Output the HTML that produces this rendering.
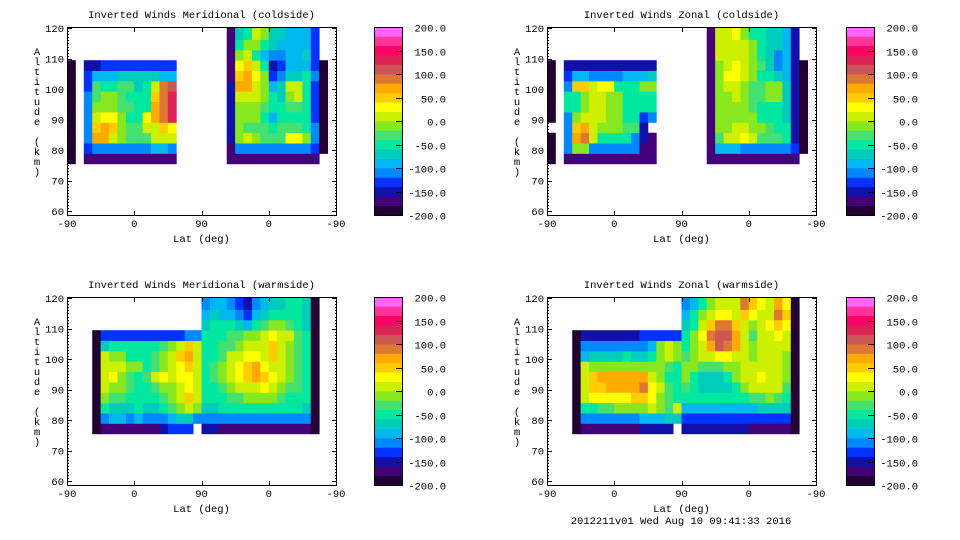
<!DOCTYPE html>
<html><head><meta charset="utf-8">
<style>
html,body{margin:0;padding:0;background:#fff;}
svg{display:block;font-family:"Liberation Mono",monospace;font-size:10.5px;}
</style></head>
<body>
<svg id="root" width="960" height="540" viewBox="0 0 960 540" xmlns="http://www.w3.org/2000/svg"></svg>
<script>
// ---- data ----
// level codes: 'a'..'t' -> level 0..19, value = -190 + 20*level ; '.' = no data
const levelColors = ["#220033","#440077","#1111aa","#0033ff","#0088ff","#00b8ee","#00ccbb","#00e8a0","#44e070","#88e820","#ccf000","#ffff00","#ffcc00","#ffaa00","#dd7733","#cc5555","#dd2255","#ff0066","#ff3399","#ff66ff"];
const colorbarTicks = [200,150,100,50,0,-50,-100,-150,-200];
const xTickLabels = ["-90","0","90","0","-90"];
const yTicks = [60,70,80,90,100,110,120];
const altBins = [75.5,78.9,82.3,85.7,89.1,92.5,95.9,99.3,102.7,106.1,109.5,112.9,116.3];
const panelTitles = ["Inverted Winds Meridional (coldside)","Inverted Winds Zonal (coldside)","Inverted Winds Meridional (warmside)","Inverted Winds Zonal (warmside)"];
// rows listed from bottom (altBins[0]) to top; 32 columns each spanning 1/8 of the axis
const gridMerCold = [
"a."+"bbbbbbbbbbb"+"......"+"bbbbbbbbbbb"+"..",
"a."+"deeeeeeeffe"+"......"+"beeeeeeeeed"+"a.",
"a."+"ennkjiiikkk"+"......"+"cjkjiiillje"+"a.",
"a."+"emnmjiikkml"+"......"+"cjiiihiiihe"+"a.",
"a."+"eklljhhlnoq"+"......"+"cjjjhfhhhhd"+"a.",
"a."+"ejjjiihhnoq"+"......"+"cjjjihhiihd"+"a.",
"a."+"eijjihhhmoq"+"......"+"ckkkjhgjkhd"+"a.",
"a."+"dihhiighkop"+"......"+"cnnkjfgkkhd"+"a.",
"a."+"dfffgggggff"+"......"+"bmnljdegghe"+"a.",
"a."+"ccddddddddd"+"......"+"blmkhcdfffd"+"a.",
".."+"..........."+"......"+"bjkhfeeffgd"+"..",
".."+"..........."+"......"+"bhjjhgffffd"+"..",
".."+"..........."+"......"+"bghkjggfffd"+".."];
const gridZonCold = [
"a."+"bbbbbbbbbbb"+"......"+"bbbbbbbbbbb"+"..",
"a."+"ejjeeeeeebb"+"......"+"bfffeeeeeed"+"a.",
"a."+"enokhhhhecb"+"......"+"bikklkiiihc"+"a.",
".."+"emnkjjjiic."+"......"+"bjjkkjjihhc"+"a.",
"a."+"ejkkkjjhhde"+"......"+"bjjjjjhhhgc"+"a.",
"a."+"hhjkkjjhhhh"+"......"+"bjjjjihhhgc"+"a.",
"a."+"hhjkkjjhhhh"+"......"+"bjjkjiijjgc"+"a.",
"a."+"emmkllhhhjj"+"......"+"bjkkjiijjgc"+"a.",
"a."+"dffeeeefffg"+"......"+"bjllkjhhgfc"+"a.",
"a."+"ccccccccccc"+"......"+"bjklkjigefc"+"a.",
".."+"..........."+"......"+"bkkkkjhgefc"+"..",
".."+"..........."+"......"+"bkkkkjhggfc"+"..",
".."+"..........."+"......"+"bkkljhhggfc"+".."];
const gridMerWarm = [
"..."+"a"+"bbbbbbbcddd."+"ccbbbbbbbbbbb"+"a"+"..",
"..."+"a"+"effefeeefgge"+"eeeeeeeeeeeee"+"a"+"..",
"..."+"a"+"hggghgghijkj"+"gghhhhhhhhhhg"+"a"+"..",
"..."+"a"+"jiihhhhijkmk"+"hhhiijjjjihhh"+"a"+"..",
"..."+"a"+"kjjihhijjklk"+"hhijkkklkjiih"+"a"+"..",
"..."+"a"+"kljihiklkllk"+"hijklmnmlkjih"+"a"+"..",
"..."+"a"+"kkkjjhijklmk"+"hijklmnlkkjih"+"a"+"..",
"..."+"a"+"kjjhhhijkmnk"+"hhikkllkmkjih"+"a"+"..",
"..."+"a"+"ghhhhhhijkmk"+"hhiijkkkmkjih"+"a"+"..",
"..."+"a"+"ddddddddddee"+"hhhiijjklkkih"+"a"+"..",
"..."+"."+"............"+"ghhhgfhijjihg"+"a"+"..",
"..."+"."+"............"+"fgffedfghhhhg"+"a"+"..",
"..."+"."+"............"+"effedcefgghhg"+"a"+".."];
const gridZonWarm = [
"..."+"a"+"bbbbbbbcccc."+"ccccccccbbbbb"+"a"+"..",
"..."+"a"+"eeeeeeefffgg"+"ddddddddddddd"+"a"+"..",
"..."+"a"+"hhiijjjjkjik"+"fffffffffgggg"+"a"+"..",
"..."+"a"+"klllllmmljih"+"hhhhhhhhiijih"+"a"+"..",
"..."+"a"+"kmmnnnnolkih"+"ihgggghjkkkki"+"a"+"..",
"..."+"a"+"kmnnnnnnkjhh"+"jhggghjkklkkj"+"a"+"..",
"..."+"a"+"kjjjjjjjjjih"+"jjiiijjkkkkkj"+"a"+"..",
"..."+"a"+"fgggghgghjkj"+"ijkkllkkjkkkj"+"a"+"..",
"..."+"a"+"eeeeeeeefjkj"+"hjknponkjkkkk"+"a"+"..",
"..."+"a"+"cccccccddddd"+"hjloppnkikklk"+"a"+"..",
"..."+"."+"............"+"ghkmoomkjklml"+"a"+"..",
"..."+"."+"............"+"fhjkllkmlkkom"+"a"+"..",
"..."+"."+"............"+"efhjkkkomlknl"+"a"+".."];

// ---- layout ----
const NS="http://www.w3.org/2000/svg";
const root=document.getElementById('root');
const ALT_MIN=58.7, ALT_MAX=120.4, NCOLS=32, COLBIN=3.4;
function mk(tag,attrs,parent){const e=document.createElementNS(NS,tag);for(const k in attrs)e.setAttribute(k,attrs[k]);(parent||root).appendChild(e);return e;}
function levelValue(ch){return -190+20*(ch.charCodeAt(0)-97);}
function colorFor(v){let i=Math.floor((v+200)/20);i=Math.max(0,Math.min(19,i));return levelColors[i];}

const panels=[
 {grid:gridMerCold,px:67,py:27,cb:374,title:panelTitles[0],name:"meridional-coldside"},
 {grid:gridZonCold,px:547,py:27,cb:846,title:panelTitles[1],name:"zonal-coldside"},
 {grid:gridMerWarm,px:67,py:297,cb:374,title:panelTitles[2],name:"meridional-warmside"},
 {grid:gridZonWarm,px:547,py:297,cb:846,title:panelTitles[3],name:"zonal-warmside"}];
const PW=269, PH=188;

panels.forEach((p,pi)=>{
  const g=mk('g',{});
  
  
  const xs=u=>p.px+u/4*PW;
  const ys=a=>p.py+(ALT_MAX-a)/(ALT_MAX-ALT_MIN)*PH;
  const clipId='clip'+pi;
  const cp=mk('clipPath',{id:clipId},g);
  mk('rect',{x:p.px,y:p.py,width:PW,height:PH},cp);
  const cells=mk('g',{'clip-path':'url(#'+clipId+')'},g);
  
  
  p.grid.forEach((row,ri)=>{
    const a0=altBins[ri];
    const a1=(ri===altBins.length-1)?ALT_MAX:a0+COLBIN;
    for(let c=0;c<NCOLS;c++){
      const ch=row[c]; if(!ch||ch==='.')continue;
      const v=levelValue(ch);
      const x0=xs(c*4/NCOLS), x1=xs((c+1)*4/NCOLS);
      const r=mk('rect',{x:x0.toFixed(2),y:ys(a1).toFixed(2),width:(x1-x0+0.4).toFixed(2),height:(ys(a0)-ys(a1)+0.4).toFixed(2),fill:colorFor(v)},cells);
      
      
    }
  });
  const fr=mk('rect',{x:p.px+0.5,y:p.py+0.5,width:PW,height:PH,fill:'none',stroke:'#000','stroke-width':1},g);
  
  
  for(let a=60;a<=120;a++){
    const y=Math.round(ys(a))+0.5, len=(a%10===0)?5:2;
    mk('line',{x1:p.px,x2:p.px+len,y1:y,y2:y,stroke:'#000'},g);
    mk('line',{x1:p.px+PW+1,x2:p.px+PW+1-len,y1:y,y2:y,stroke:'#000'},g);
  }
  yTicks.forEach(a=>{
    const t=mk('text',{x:p.px-3,y:ys(a)+4,'text-anchor':'end',fill:'#000'},g);
    t.textContent=String(a);
    
    
  });
  xTickLabels.forEach((lab,i)=>{
    const x=Math.round(xs(i))+0.5;
    mk('line',{x1:x,x2:x,y1:p.py+PH+1,y2:p.py+PH-4,stroke:'#000'},g);
    mk('line',{x1:x,x2:x,y1:p.py,y2:p.py+5,stroke:'#000'},g);
    const t=mk('text',{x:xs(i),y:p.py+PH+12,'text-anchor':'middle',fill:'#000'},g);
    t.textContent=lab;
    
    
  });
  const tt=mk('text',{x:p.px+PW/2,y:p.py-9,'text-anchor':'middle',fill:'#000'},g);
  tt.textContent=p.title;
  
  
  const xl=mk('text',{x:p.px+PW/2,y:p.py+PH+27,'text-anchor':'middle',fill:'#000'},g);
  xl.textContent="Lat (deg)";
  
  
  const yl=mk('text',{x:p.px-30,y:p.py+28,'text-anchor':'middle',fill:'#000'},g);
  
  
  "Altitude (km)".split('').forEach((ch,i)=>{
    const s=mk('tspan',{x:p.px-30,y:p.py+28+i*10},yl); s.textContent=ch===' '?'\u00a0':ch;
  });
  const cbg=mk('g',{},g);
  
  
  const cbY=v=>p.py+(200-v)/400*PH;
  for(let i=0;i<20;i++){
    const lo=-200+20*i;
    const r=mk('rect',{x:p.cb,y:cbY(lo+20).toFixed(2),width:28,height:(PH/20+0.3).toFixed(2),fill:levelColors[i]},cbg);
    
    
  }
  mk('rect',{x:p.cb+0.5,y:p.py+0.5,width:28,height:PH,fill:'none',stroke:'#000'},cbg);
  colorbarTicks.forEach(v=>{
    const y=Math.round(cbY(v))+0.5;
    mk('line',{x1:p.cb+22,x2:p.cb+28,y1:y,y2:y,stroke:'#000'},cbg);
    const t=mk('text',{x:p.cb+72,y:y+4,'text-anchor':'end',fill:'#000'},cbg);
    t.textContent=v.toFixed(1);
    
    
  });
});
const foot=mk('text',{x:681,y:524,'text-anchor':'middle',fill:'#000'});
foot.textContent="2012211v01 Wed Aug 10 09:41:33 2016";


</script>
</body></html>
